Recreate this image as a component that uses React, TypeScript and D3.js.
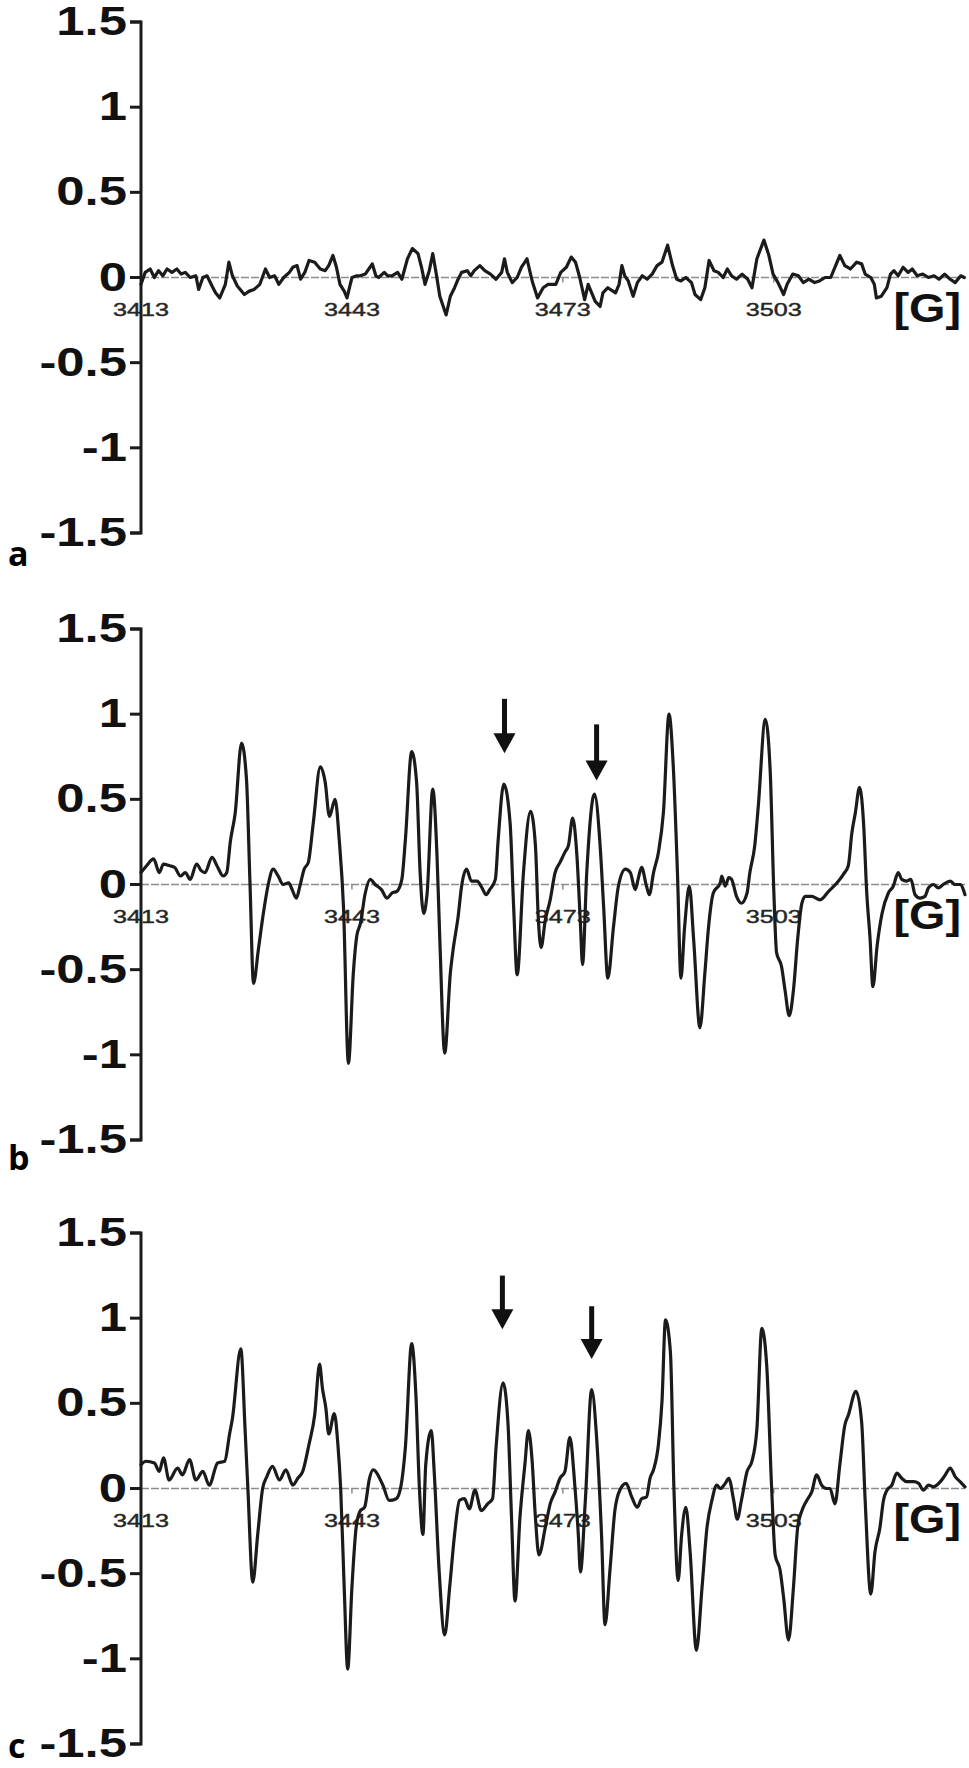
import React from "react";
import * as d3 from "d3";

// ---- data ----
const FIELD_TICKS = [3413, 3443, 3473, 3503];
const Y_TICKS = [1.5, 1, 0.5, 0, -0.5, -1, -1.5];
const FIELD_DOMAIN = [3413, 3530.2];
const UNIT_LABEL = "[G]";

const spectrumA: [number, number][] = [
  [3413.0, -0.04], [3413.6, 0.03], [3414.3, 0.05], [3414.9, 0], [3415.5, 0.04], [3416.1, 0.01],
  [3416.7, 0.05], [3417.4, 0.03], [3418.1, 0.05], [3418.7, 0.02], [3419.3, 0.03], [3420.0, 0],
  [3420.8, 0.01], [3421.2, -0.07], [3421.8, 0], [3422.4, 0.01], [3423.1, -0.05], [3423.6, -0.09],
  [3424.2, -0.12], [3425.0, -0.04], [3425.5, 0.09], [3426.0, 0.01], [3426.7, -0.05], [3427.7, -0.1],
  [3428.4, -0.08], [3429.1, -0.07], [3429.9, -0.04], [3430.7, 0.05], [3431.3, 0], [3432.0, 0.01],
  [3432.6, -0.04], [3433.3, 0], [3434.1, 0.03], [3434.6, 0.06], [3435.2, 0.07], [3435.7, -0.01],
  [3436.3, 0.03], [3436.9, 0.1], [3437.7, 0.09], [3438.5, 0.05], [3439.2, 0.04], [3439.7, 0.07],
  [3440.3, 0.13], [3440.8, 0.06], [3441.3, -0.04], [3441.9, -0.08], [3442.3, -0.12], [3443.0, 0],
  [3443.7, 0.01], [3444.2, 0.01], [3444.9, 0.02], [3445.4, 0.05], [3445.9, 0.08], [3446.4, 0.01],
  [3446.8, 0], [3447.6, 0.03], [3448.1, 0.01], [3448.7, 0.01], [3449.5, 0.03], [3450.1, -0.01],
  [3450.9, 0.11], [3451.6, 0.17], [3452.4, 0.14], [3452.9, 0.06], [3453.4, -0.04], [3454.0, 0.04],
  [3454.5, 0.14], [3455.0, 0.02], [3455.5, -0.11], [3456.4, -0.22], [3457.0, -0.11], [3457.6, -0.06],
  [3458.1, -0.01], [3458.6, 0.03], [3459.4, 0.04], [3459.9, 0.01], [3460.4, 0.04], [3461.2, 0.07],
  [3461.9, 0.04], [3462.7, 0.02], [3463.5, -0.01], [3464.3, 0.03], [3464.7, 0.11], [3465.1, 0.03],
  [3465.8, -0.03], [3466.5, 0], [3467.1, 0.06], [3467.9, 0.11], [3468.4, 0.02], [3468.7, -0.03],
  [3469.4, -0.12], [3470.2, -0.06], [3470.9, -0.04], [3472.0, -0.04], [3472.7, 0.03], [3473.5, 0.06],
  [3474.2, 0.12], [3474.8, 0.09], [3475.4, 0], [3476.1, -0.13], [3476.6, -0.04], [3477.1, -0.09],
  [3477.6, -0.14], [3478.3, -0.17], [3478.7, -0.09], [3479.4, -0.06], [3480.5, -0.09], [3481.0, -0.04],
  [3481.4, 0.07], [3481.8, 0.01], [3482.3, -0.02], [3483.0, -0.11], [3483.6, -0.03], [3484.3, 0.01],
  [3485.0, -0.01], [3485.7, 0.02], [3486.4, 0.07], [3487.1, 0.09], [3487.9, 0.19], [3488.6, 0.07],
  [3489.2, -0.01], [3489.8, -0.02], [3490.5, 0], [3491.3, -0.03], [3491.8, -0.1], [3492.6, -0.13],
  [3493.2, -0.06], [3493.8, 0.1], [3494.5, 0.04], [3495.1, 0.03], [3495.8, 0], [3496.4, 0.05],
  [3497.0, 0.01], [3497.7, -0.01], [3498.5, 0.02], [3499.3, -0.01], [3499.9, -0.06], [3500.6, 0.11],
  [3501.6, 0.22], [3502.3, 0.13], [3502.9, 0.02], [3503.6, -0.03], [3504.4, -0.1], [3504.9, -0.04],
  [3505.7, 0.02], [3506.5, 0.01], [3507.2, -0.03], [3508.0, -0.01], [3508.8, -0.03], [3509.5, -0.02],
  [3510.3, 0], [3511.1, 0], [3511.8, 0.07], [3512.4, 0.13], [3513.1, 0.07], [3513.9, 0.05],
  [3514.8, 0.09], [3515.5, 0.08], [3516.0, 0.02], [3516.8, 0], [3517.3, -0.04], [3517.6, -0.12],
  [3518.3, -0.11], [3519.1, -0.06], [3519.6, 0.02], [3520.1, 0.04], [3520.7, 0.01], [3521.4, 0.06],
  [3522.1, 0.03], [3522.7, 0.05], [3523.4, 0.01], [3524.2, 0.02], [3525.0, 0], [3525.8, 0.01],
  [3526.5, -0.01], [3527.3, 0.02], [3528.1, -0.01], [3528.8, -0.03], [3529.6, 0.01], [3530.1, 0],
];

const spectrumB: [number, number][] = [
  [3413.0, 0.07], [3413.8, 0.11], [3414.8, 0.15], [3415.6, 0.07], [3416.2, 0.12], [3417.1, 0.11],
  [3417.8, 0.1], [3418.6, 0.05], [3419.3, 0.07], [3420.0, 0.03], [3420.9, 0.12], [3421.6, 0.08],
  [3422.1, 0.07], [3423.1, 0.16], [3423.8, 0.11], [3424.7, 0.05], [3425.2, 0.07], [3425.7, 0.25],
  [3426.4, 0.42], [3427.3, 0.83], [3428.0, 0.62], [3428.5, 0.01], [3429.0, -0.58], [3429.7, -0.38],
  [3430.4, -0.17], [3431.1, 0], [3431.8, 0.09], [3432.5, 0.05], [3433.2, 0], [3434.0, 0.01],
  [3434.4, -0.02], [3435.1, -0.08], [3435.6, -0.01], [3436.2, 0.09], [3436.8, 0.13], [3437.5, 0.36],
  [3438.5, 0.69], [3439.2, 0.6], [3439.8, 0.4], [3440.6, 0.5], [3441.2, 0.26], [3441.8, -0.13],
  [3442.5, -1.05], [3443.2, -0.52], [3443.7, -0.3], [3444.2, -0.23], [3444.9, -0.05], [3445.6, 0.03],
  [3446.3, 0], [3447.2, -0.03], [3448.0, -0.08], [3448.7, -0.05], [3449.4, -0.04], [3450.1, 0.03],
  [3450.6, 0.26], [3451.5, 0.78], [3452.2, 0.6], [3452.7, 0.07], [3453.2, -0.17], [3453.7, -0.05],
  [3454.5, 0.56], [3455.1, 0.17], [3455.5, -0.32], [3456.2, -0.99], [3457.0, -0.52], [3457.4, -0.38],
  [3458.1, -0.19], [3458.6, -0.01], [3459.3, 0.09], [3460.0, 0.02], [3460.8, 0.02], [3461.5, -0.02],
  [3462.1, -0.06], [3462.6, -0.03], [3463.4, 0.03], [3463.8, 0.26], [3464.6, 0.59], [3465.5, 0.36],
  [3466.0, -0.13], [3466.5, -0.53], [3467.4, 0.07], [3468.4, 0.43], [3469.1, 0.23], [3469.5, -0.19],
  [3469.9, -0.37], [3470.5, -0.21], [3471.2, -0.09], [3471.9, 0.07], [3472.6, 0.13], [3473.3, 0.19],
  [3473.8, 0.23], [3474.4, 0.39], [3475.0, 0.17], [3475.5, -0.23], [3475.8, -0.47], [3476.4, 0.07],
  [3477.5, 0.53], [3478.3, 0.23], [3478.8, -0.13], [3479.4, -0.55], [3480.2, -0.25], [3480.9, -0.01],
  [3481.9, 0.09], [3482.6, 0.07], [3483.3, -0.03], [3483.7, 0.03], [3484.2, 0.1], [3484.9, -0.01],
  [3485.3, -0.06], [3485.9, 0.07], [3486.6, 0.19], [3487.3, 0.42], [3488.1, 1.0], [3488.7, 0.7],
  [3489.3, 0.07], [3489.8, -0.55], [3490.3, -0.26], [3491.0, -0.01], [3491.6, -0.32], [3492.5, -0.84],
  [3493.2, -0.52], [3493.7, -0.26], [3494.4, -0.05], [3495.4, 0.01], [3495.6, 0.05], [3496.1, -0.01],
  [3496.6, 0.04], [3497.0, 0.03], [3497.7, -0.07], [3498.4, -0.11], [3499.2, -0.05], [3499.6, 0.07],
  [3500.3, 0.23], [3500.8, 0.46], [3501.8, 0.97], [3502.5, 0.66], [3503.0, -0.03], [3503.4, -0.4],
  [3504.1, -0.48], [3504.6, -0.62], [3505.2, -0.77], [3505.8, -0.62], [3506.4, -0.32], [3507.0, -0.11],
  [3507.5, -0.07], [3508.4, -0.07], [3509.6, -0.09], [3510.8, -0.04], [3512.0, 0.01], [3512.9, 0.06],
  [3513.6, 0.11], [3514.1, 0.3], [3514.6, 0.42], [3515.2, 0.57], [3515.8, 0.34], [3516.2, -0.03],
  [3516.7, -0.32], [3517.1, -0.6], [3517.7, -0.36], [3518.4, -0.17], [3519.3, -0.05], [3520.0, -0.01],
  [3520.7, 0.07], [3521.2, 0.03], [3521.9, 0.02], [3522.5, 0.03], [3523.1, -0.06], [3523.8, -0.08],
  [3524.5, -0.07], [3525.0, -0.02], [3525.7, 0], [3526.4, -0.02], [3527.1, 0], [3528.1, 0.02],
  [3528.8, 0], [3529.5, 0], [3530.2, -0.06],
];

const spectrumC: [number, number][] = [
  [3413.0, 0.14], [3413.7, 0.16], [3414.9, 0.15], [3415.6, 0.1], [3416.2, 0.18], [3417.0, 0.05],
  [3418.2, 0.12], [3418.9, 0.08], [3419.9, 0.17], [3420.8, 0.05], [3421.8, 0.1], [3422.7, 0.02],
  [3423.9, 0.15], [3424.9, 0.16], [3425.6, 0.32], [3426.0, 0.41], [3427.2, 0.82], [3427.8, 0.35],
  [3428.2, 0], [3428.9, -0.55], [3429.6, -0.27], [3430.3, 0], [3430.9, 0.07], [3431.7, 0.13],
  [3432.7, 0.05], [3433.6, 0.11], [3434.6, 0.02], [3435.3, 0.06], [3436.0, 0.1], [3436.9, 0.26],
  [3437.7, 0.43], [3438.4, 0.73], [3438.8, 0.59], [3439.3, 0.47], [3439.7, 0.32], [3440.5, 0.44],
  [3441.0, 0.26], [3441.4, 0], [3441.9, -0.58], [3442.4, -1.06], [3443.0, -0.58], [3443.6, -0.23],
  [3444.2, -0.13], [3444.8, -0.11], [3445.5, 0.06], [3446.0, 0.11], [3447.4, 0.02], [3448.3, -0.07],
  [3449.3, -0.06], [3450.0, 0.02], [3450.6, 0.24], [3451.5, 0.85], [3452.1, 0.55], [3452.6, 0],
  [3453.1, -0.27], [3453.5, 0.14], [3454.3, 0.34], [3454.7, 0.1], [3455.4, -0.48], [3456.2, -0.86],
  [3456.9, -0.58], [3457.6, -0.27], [3458.3, -0.07], [3459.0, -0.06], [3459.7, -0.12], [3460.5, -0.01],
  [3461.4, -0.13], [3462.3, -0.09], [3463.0, -0.06], [3463.5, 0.24], [3464.5, 0.62], [3465.2, 0.38],
  [3465.7, -0.17], [3466.2, -0.66], [3466.9, -0.17], [3467.6, 0.14], [3468.1, 0.34], [3468.6, 0.18],
  [3469.1, -0.17], [3469.6, -0.39], [3470.5, -0.23], [3471.2, -0.09], [3471.9, -0.02], [3472.6, 0.06],
  [3473.3, 0.1], [3474.0, 0.3], [3474.7, 0.02], [3475.2, -0.27], [3475.5, -0.49], [3476.2, -0.07],
  [3477.1, 0.58], [3477.8, 0.3], [3478.5, -0.27], [3479.0, -0.8], [3479.7, -0.48], [3480.4, -0.13],
  [3481.1, -0.01], [3482.0, 0.03], [3482.8, -0.05], [3483.6, -0.11], [3484.2, -0.06], [3484.9, -0.05],
  [3485.4, 0.06], [3485.9, 0.11], [3486.6, 0.26], [3487.1, 0.51], [3487.6, 0.99], [3488.3, 0.8],
  [3488.8, 0], [3489.4, -0.54], [3489.9, -0.27], [3490.5, -0.11], [3491.1, -0.37], [3492.0, -0.95],
  [3492.8, -0.58], [3493.5, -0.23], [3494.2, -0.07], [3494.9, 0.02], [3495.4, 0], [3496.1, 0.03],
  [3496.6, 0.06], [3497.3, -0.07], [3497.8, -0.18], [3498.4, -0.07], [3499.2, 0.1], [3499.9, 0.16],
  [3500.6, 0.35], [3501.3, 0.94], [3502.0, 0.72], [3502.7, 0], [3503.2, -0.39], [3503.9, -0.48],
  [3504.4, -0.64], [3505.1, -0.89], [3505.8, -0.58], [3506.4, -0.23], [3507.0, -0.13], [3507.7, -0.07],
  [3508.4, -0.02], [3509.1, 0.08], [3509.8, 0.02], [3510.5, 0], [3511.0, 0], [3511.7, -0.09],
  [3512.4, 0.14], [3513.1, 0.37], [3513.6, 0.43], [3514.7, 0.57], [3515.5, 0.39], [3516.0, -0.07],
  [3516.8, -0.62], [3517.4, -0.37], [3518.1, -0.23], [3518.6, -0.07], [3519.1, -0.01], [3519.8, 0.02],
  [3520.5, 0.09], [3521.2, 0.06], [3521.9, 0.04], [3522.9, 0.04], [3523.6, 0.03], [3524.3, -0.01],
  [3525.0, 0.02], [3525.7, 0.01], [3526.7, 0.04], [3527.4, 0.08], [3528.1, 0.12], [3528.8, 0.07],
  [3529.5, 0.04], [3530.2, 0.01],
];

// arrows: field position, top of shaft and tip (intensity units)
const arrowsB = [
  { field: 3464.7, top: 1.09, tip: 0.77 },
  { field: 3477.8, top: 0.94, tip: 0.61 },
];
const arrowsC = [
  { field: 3464.4, top: 1.25, tip: 0.935 },
  { field: 3477.1, top: 1.07, tip: 0.76 },
];

const PANEL_NAMES = ["a", "b", "c"];

// ---- layout ----
const W = 969;
const H = 1768;
const AXIS_X = 141;
const RIGHT_X = 965;
const HALF = 255.5;

const panels = [
  { name: PANEL_NAMES[0], data: spectrumA, arrows: [] as typeof arrowsB, zero: 277.5, smooth: false, labelY: 566, width: 3.2 },
  { name: PANEL_NAMES[1], data: spectrumB, arrows: arrowsB, zero: 884.5, smooth: true, labelY: 1170, width: 3.2 },
  { name: PANEL_NAMES[2], data: spectrumC, arrows: arrowsC, zero: 1488.5, smooth: true, labelY: 1758, width: 3.2 },
];

const x = d3.scaleLinear().domain(FIELD_DOMAIN).range([AXIS_X, RIGHT_X]);

const INK = "#1b1b1b";
const NUM_FONT = "'Liberation Sans', Arial, sans-serif";

function Panel({ p }: { p: (typeof panels)[number] }) {
  const y = d3.scaleLinear().domain([-1.5, 1.5]).range([p.zero + HALF, p.zero - HALF]);
  const line = d3
    .line<[number, number]>()
    .x((d) => x(d[0]))
    .y((d) => y(d[1]))
    .curve(p.smooth ? d3.curveMonotoneX : d3.curveLinear);
  const top = y(1.5);
  const bottom = y(-1.5);
  return (
    <g>
      {/* zero baseline */}
      <line x1={AXIS_X} x2={RIGHT_X} y1={y(0)} y2={y(0)} stroke="#8c8c8c" strokeWidth={1.6} strokeDasharray="8 2" />
      {FIELD_TICKS.slice(1).map((f) => (
        <line key={"xt" + f} x1={x(f)} x2={x(f)} y1={y(0)} y2={y(0) + 5} stroke="#8c8c8c" strokeWidth={1.5} />
      ))}
      {/* x tick labels */}
      {FIELD_TICKS.map((f) => (
        <text
          key={"xl" + f}
          transform={`translate(${x(f)},${y(0) + 38}) scale(1.4,1)`}
          textAnchor="middle"
          fontFamily={NUM_FONT}
          fontSize={18}
          fill="#262626"
          stroke="#262626"
          strokeWidth={0.4}
        >
          {f}
        </text>
      ))}
      {/* spectrum */}
      <path d={line(p.data) || ""} fill="none" stroke={INK} strokeWidth={p.width} strokeLinejoin="round" strokeLinecap="round" />
      {/* y axis */}
      <path d={`M${AXIS_X - 11},${top}H${AXIS_X}V${bottom}H${AXIS_X - 11}`} fill="none" stroke={INK} strokeWidth={3} />
      {Y_TICKS.map((t) => (
        <g key={"yt" + t}>
          <line x1={AXIS_X - 11} x2={AXIS_X} y1={y(t)} y2={y(t)} stroke={INK} strokeWidth={3} />
          <text
            transform={`translate(${AXIS_X - 14},${y(t) + 13}) scale(1.24,1)`}
            textAnchor="end"
            fontFamily={NUM_FONT}
            fontWeight="bold"
            fontSize={41}
            fill="#111"
          >
            {String(t)}
          </text>
        </g>
      ))}
      {/* unit label */}
      <text
        transform={`translate(${RIGHT_X - 4},${y(0) + 44}) scale(1.17,1)`}
        textAnchor="end"
        fontFamily={NUM_FONT}
        fontWeight="bold"
        fontSize={40}
        fill="#111"
      >
        {UNIT_LABEL}
      </text>
      {/* arrows */}
      {p.arrows.map((a, i) => {
        const ax = x(a.field);
        const yTop = y(a.top);
        const yTip = y(a.tip);
        const headLen = 20;
        return (
          <g key={"ar" + i}>
            <line x1={ax} x2={ax} y1={yTop} y2={yTip - headLen + 2} stroke="#111" strokeWidth={5} />
            <polygon points={`${ax - 11},${yTip - headLen} ${ax + 11},${yTip - headLen} ${ax},${yTip}`} fill="#111" />
          </g>
        );
      })}
      {/* panel letter */}
      <text x={8} y={p.labelY} fontFamily="'Open Sans', 'Noto Sans', sans-serif" fontWeight={700} fontSize={34} fill="#000">
        {p.name}
      </text>
    </g>
  );
}

export default function App() {
  return (
    <svg
      width={W}
      height={H}
      viewBox={`0 0 ${W} ${H}`}
      style={{ position: "absolute", left: 0, top: 0, background: "#fff" }}
    >
      <rect width={W} height={H} fill="#fff" />
      {panels.map((p) => (
        <Panel key={p.name} p={p} />
      ))}
    </svg>
  );
}
